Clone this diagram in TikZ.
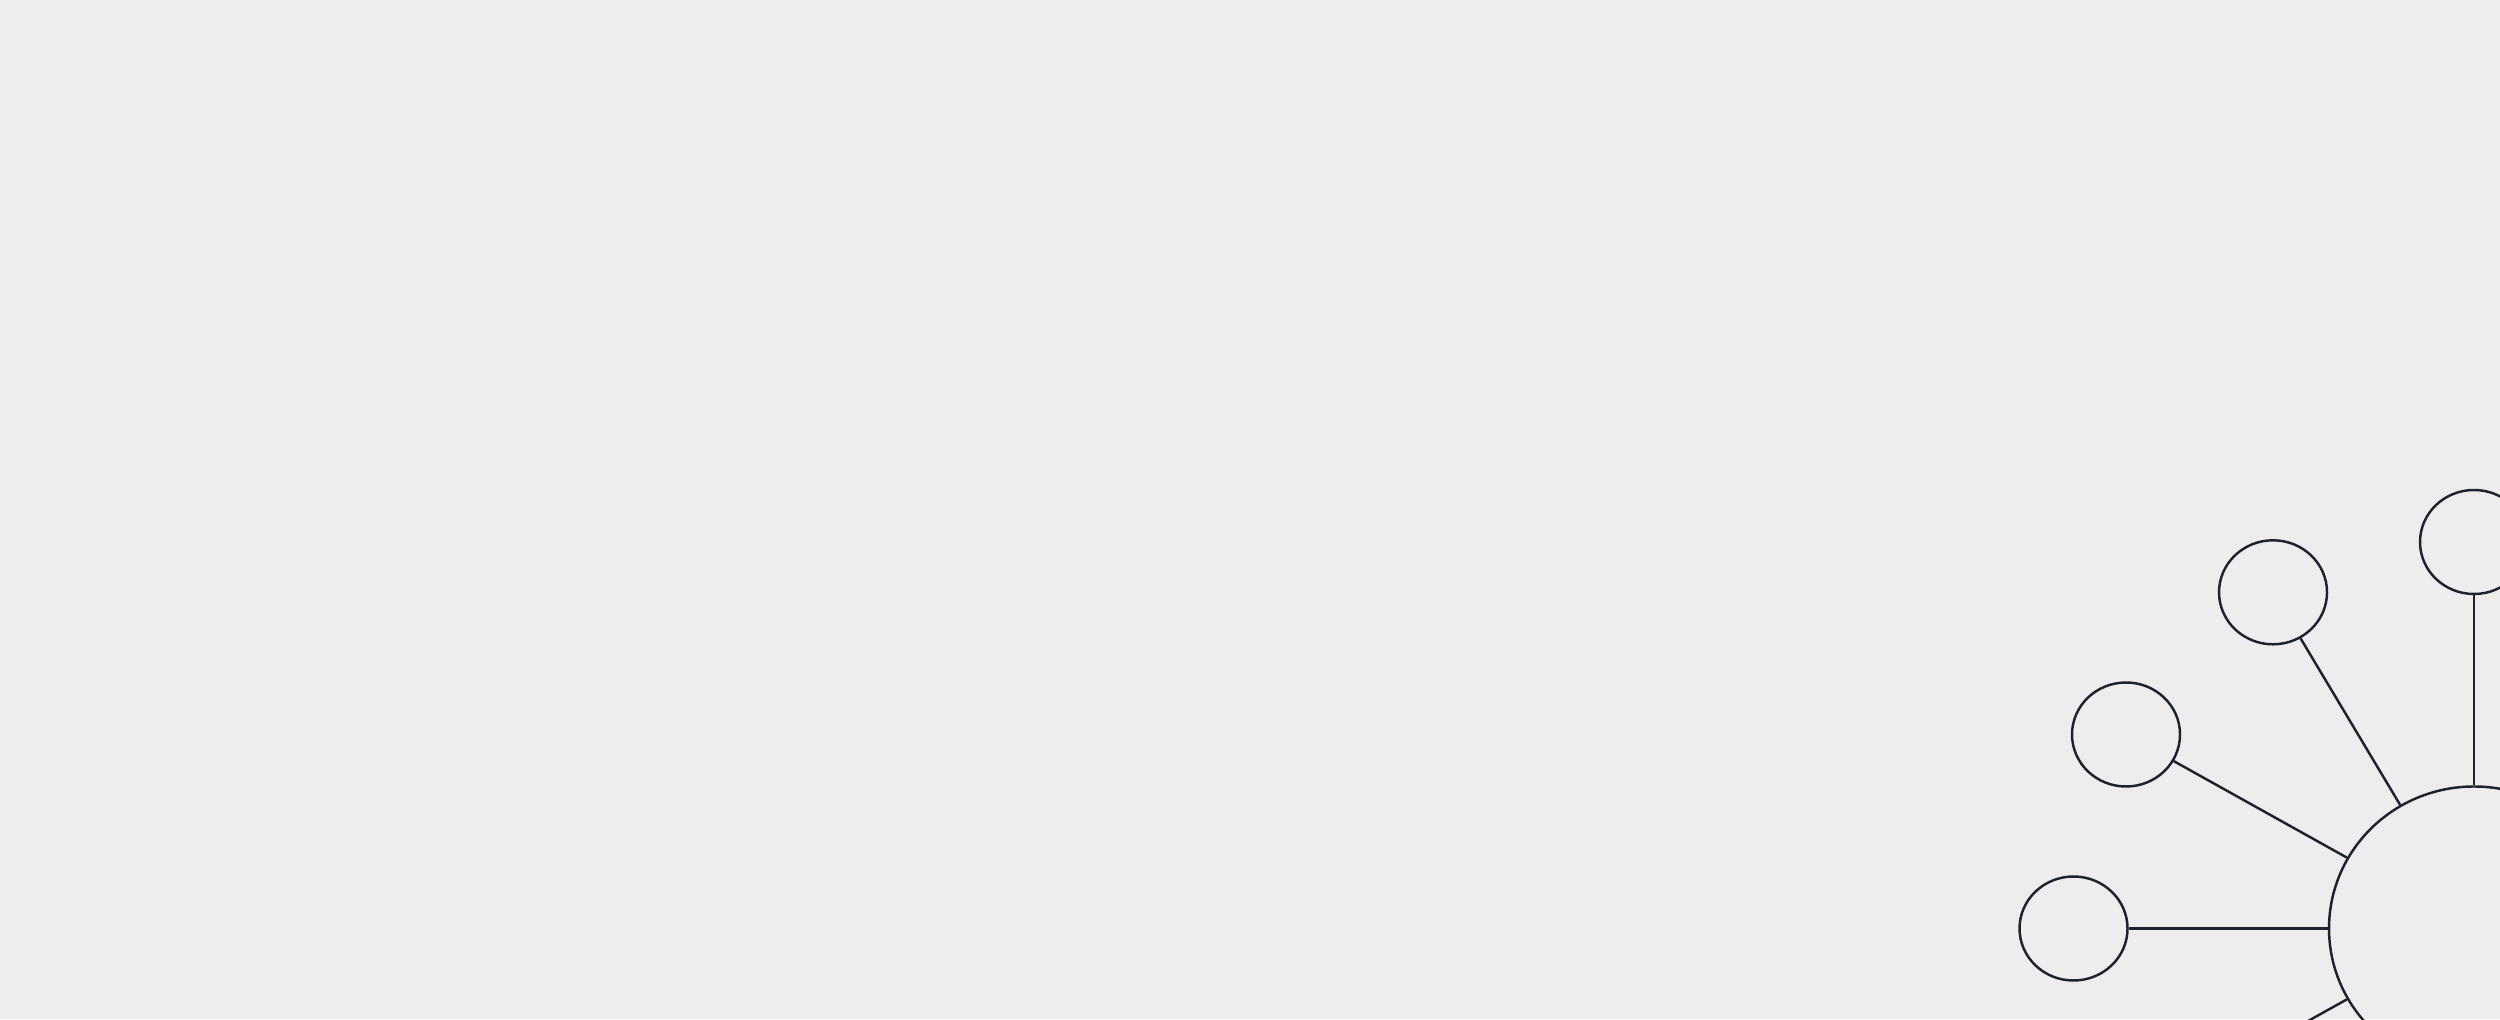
\documentclass[tikz,border=0pt]{standalone}
\usetikzlibrary{shapes.geometric}
\definecolor{paper}{RGB}{237,237,237}
\definecolor{ink}{RGB}{30,34,46}
\tikzset{
  bubble/.style={draw=ink, line width=0.7pt, ellipse, inner sep=0pt,
    minimum width=1.08cm, minimum height=1.04cm},
  hub/.style={draw=ink, line width=0.7pt, ellipse, inner sep=0pt,
    minimum width=2.90cm, minimum height=2.84cm},
  spoke/.style={draw=ink, line width=0.7pt}
}
\begin{document}
\begin{tikzpicture}
\useasboundingbox (0,0) rectangle (25,10.19);
\fill[paper] (0,0) rectangle (25,10.19);
\clip (0,0) rectangle (25,10.19);

% centre and its satellites
\node[hub] (hub) at (24.74,0.905) {};
\node[bubble] (west) at (20.735,0.905) {};
\node[bubble] (wnw) at (21.26,2.845) {};
\node[bubble] (nnw) at (22.73,4.267) {};
\node[bubble] (north) at (24.74,4.77) {};
\node[bubble] (wsw) at (21.26,-1.035) {};

\draw[spoke] (west) -- (hub);
\draw[spoke] (wnw) -- (hub);
\draw[spoke] (nnw) -- (hub);
\draw[spoke] (north) -- (hub);
\draw[spoke] (wsw) -- (hub);
\end{tikzpicture}
\end{document}
